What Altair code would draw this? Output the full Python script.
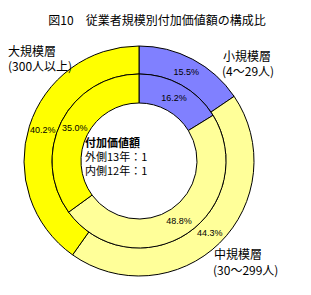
import altair as alt
import pandas as pd

categories = ["小規模層", "中規模層", "大規模層"]
outer_13 = [15.5, 44.3, 40.2]
inner_12 = [16.2, 48.8, 35.0]
colors = ["#8080FF", "#FFFF99", "#FFFF00"]

title_text = "図10　従業者規模別付加価値額の構成比"
center_lines = ["付加価値額", "外側13年：1", "内側12年：1"]

def frame(vals):
    return pd.DataFrame({
        "cat": categories,
        "order": list(range(len(categories))),
        "value": vals,
        "label": [f"{v:.1f}%" for v in vals],
    })

df_out = frame(outer_13)
df_in = frame(inner_12)

CX, CY = 139, 161
JP = "Noto Sans CJK JP"

color = alt.Color("cat:N", scale=alt.Scale(domain=categories, range=colors), legend=None)

def ring(df, r1, r2, rtext):
    base = alt.Chart(df).encode(
        theta=alt.Theta("value:Q", stack=True),
        order=alt.Order("order:Q"),
        x=alt.value(CX), y=alt.value(CY),
    )
    arc = base.mark_arc(radius=r1, radius2=r2, stroke="black", strokeWidth=1).encode(color=color)
    txt = base.mark_text(radius=rtext, font="Liberation Sans", fontSize=9,
                         align="center", baseline="middle", color="black").encode(text="label:N")
    return arc, txt

arc_o, txt_o = ring(df_out, 115, 87, 101)
arc_i, txt_i = ring(df_in, 87, 58, 72)

def note(text, x, y, size=12, align="left", weight="normal"):
    return alt.Chart(pd.DataFrame({"t": [text]})).mark_text(
        font=JP, fontSize=size, align=align, baseline="middle", color="black", fontWeight=weight
    ).encode(text="t:N", x=alt.value(x), y=alt.value(y))

notes = [
    note(title_text, 157, 21, 12, "center"),
    note("大規模層", 8, 52),
    note("(300人以上)", 8, 67),
    note("小規模層", 223, 57),
    note("(4〜29人)", 222, 72),
    note("中規模層", 214, 255),
    note("(30〜299人)", 213, 271),
    note(center_lines[0], 85, 144, 11, weight="bold"),
    note(center_lines[1], 85, 158, 11),
    note(center_lines[2], 85, 172, 11),
]

chart = alt.layer(arc_o, arc_i, txt_o, txt_i, *notes).properties(
    width=311, height=295, padding=0, autosize="none", background="white"
).configure_view(stroke=None)

chart.save("out.html", embed_options={"renderer": "svg", "actions": False})
